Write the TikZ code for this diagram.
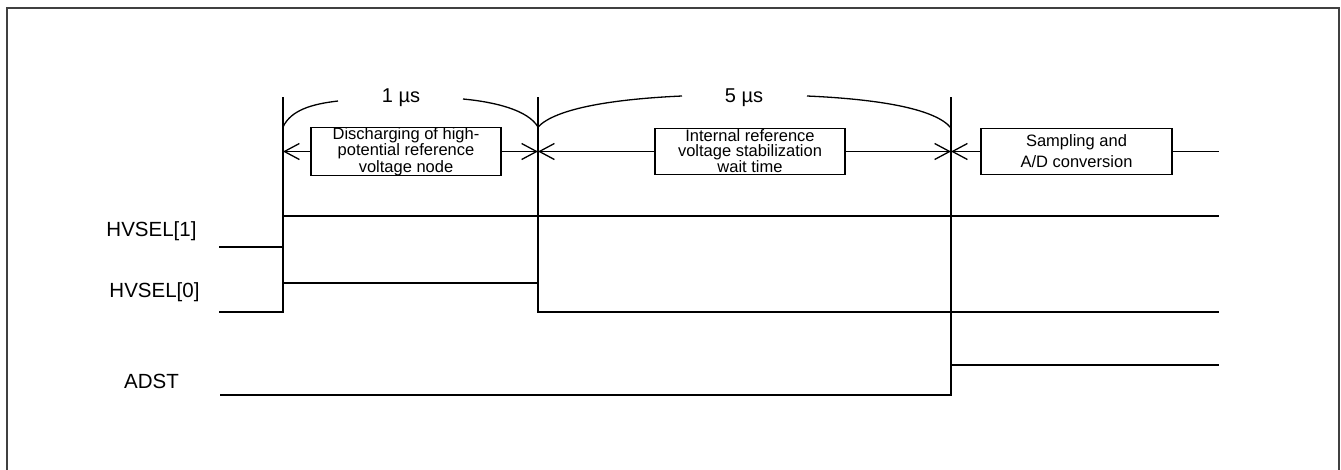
\documentclass[tikz,border=0pt]{standalone}
\usepackage{fontspec}
\setmainfont{Liberation Sans}
\usetikzlibrary{arrows.meta}
\begin{document}
\begin{tikzpicture}[x=1pt,y=-1pt,
  sig/.style={line width=2.6pt, line cap=butt, line join=miter},
  guide/.style={line width=1.3pt},
  dim/.style={line width=1.3pt},
  tip/.style={-{Straight Barb[length=15pt,width=16pt,line width=1.3pt]}},
  lbl/.style={inner sep=0pt, font=\fontsize{20.5}{24}\selectfont},
  dur/.style={inner sep=0pt, font=\fontsize{20}{24}\selectfont},
  box/.style={draw, line width=1.6pt, minimum width=190pt, minimum height=46pt, inner sep=0pt, align=center},
  ]
\useasboundingbox (0,0) rectangle (1341,469);
% frame
\draw[line width=1.6pt, black!75] (7,472) -- (7,8) -- (1339,8) -- (1339,472);
% guide lines
\draw[guide] (283,97) -- (283,312);
\draw[guide] (538,97) -- (538,312);
\draw[guide] (951,97) -- (951,395);
% boxes
\node[box, font=\fontsize{16.5}{14.8}\selectfont] (b1) at (406,151.5) {Discharging of high-\\potential reference\\voltage node};
\node[box, font=\fontsize{16.5}{14.8}\selectfont] (b2) at (750,151.5) {Internal reference\\voltage stabilization\\wait time};
\node[box, minimum width=191pt, font=\fontsize{16.5}{21}\selectfont] (b3) at (1076.5,151.5) {Sampling and\\A/D conversion};
% dimension line
\coordinate (m0) at (283,151.5);
\coordinate (m1) at (538,151.5);
\coordinate (m2) at (951,151.5);
\coordinate (mend) at (1219,151.5);
\draw[dim,tip] (b1.west) -- (m0);
\draw[dim,tip] (b1.east) -- (m1);
\draw[dim,tip] (b2.west) -- (m1);
\draw[dim,tip] (b2.east) -- (m2);
\draw[dim,tip] (b3.west) -- (m2);
\draw[dim] (b3.east) -- (mend);
% durations
\node[dur] (d1) at (401,98) {1 µs};
\node[dur] (d2) at (744,98) {5 µs};
\draw[guide] (283,127) .. controls (291,110) and (312,104) .. (338,101);
\draw[guide] (463,99) .. controls (495,102) and (528,110) .. (538,127);
\draw[guide] (538,127) .. controls (556,108) and (615,99) .. (682,96);
\draw[guide] (807,96) .. controls (875,99) and (935,108) .. (951,128);
% signal labels
\node[lbl] (h1) at (151.5,231) {HVSEL[1]};
\node[lbl] (h0) at (154.5,292) {HVSEL[0]};
\node[lbl] (ad) at (151.5,381) {ADST};
% waveforms
\draw[sig] (219,247) -- (283,247) -- (283,216) -- (1219,216);
\draw[sig] (219,312) -- (283,312) -- (283,283) -- (538,283) -- (538,312) -- (1219,312);
\draw[sig] (220,395) -- (951,395) -- (951,365) -- (1219,365);
\end{tikzpicture}
\end{document}
